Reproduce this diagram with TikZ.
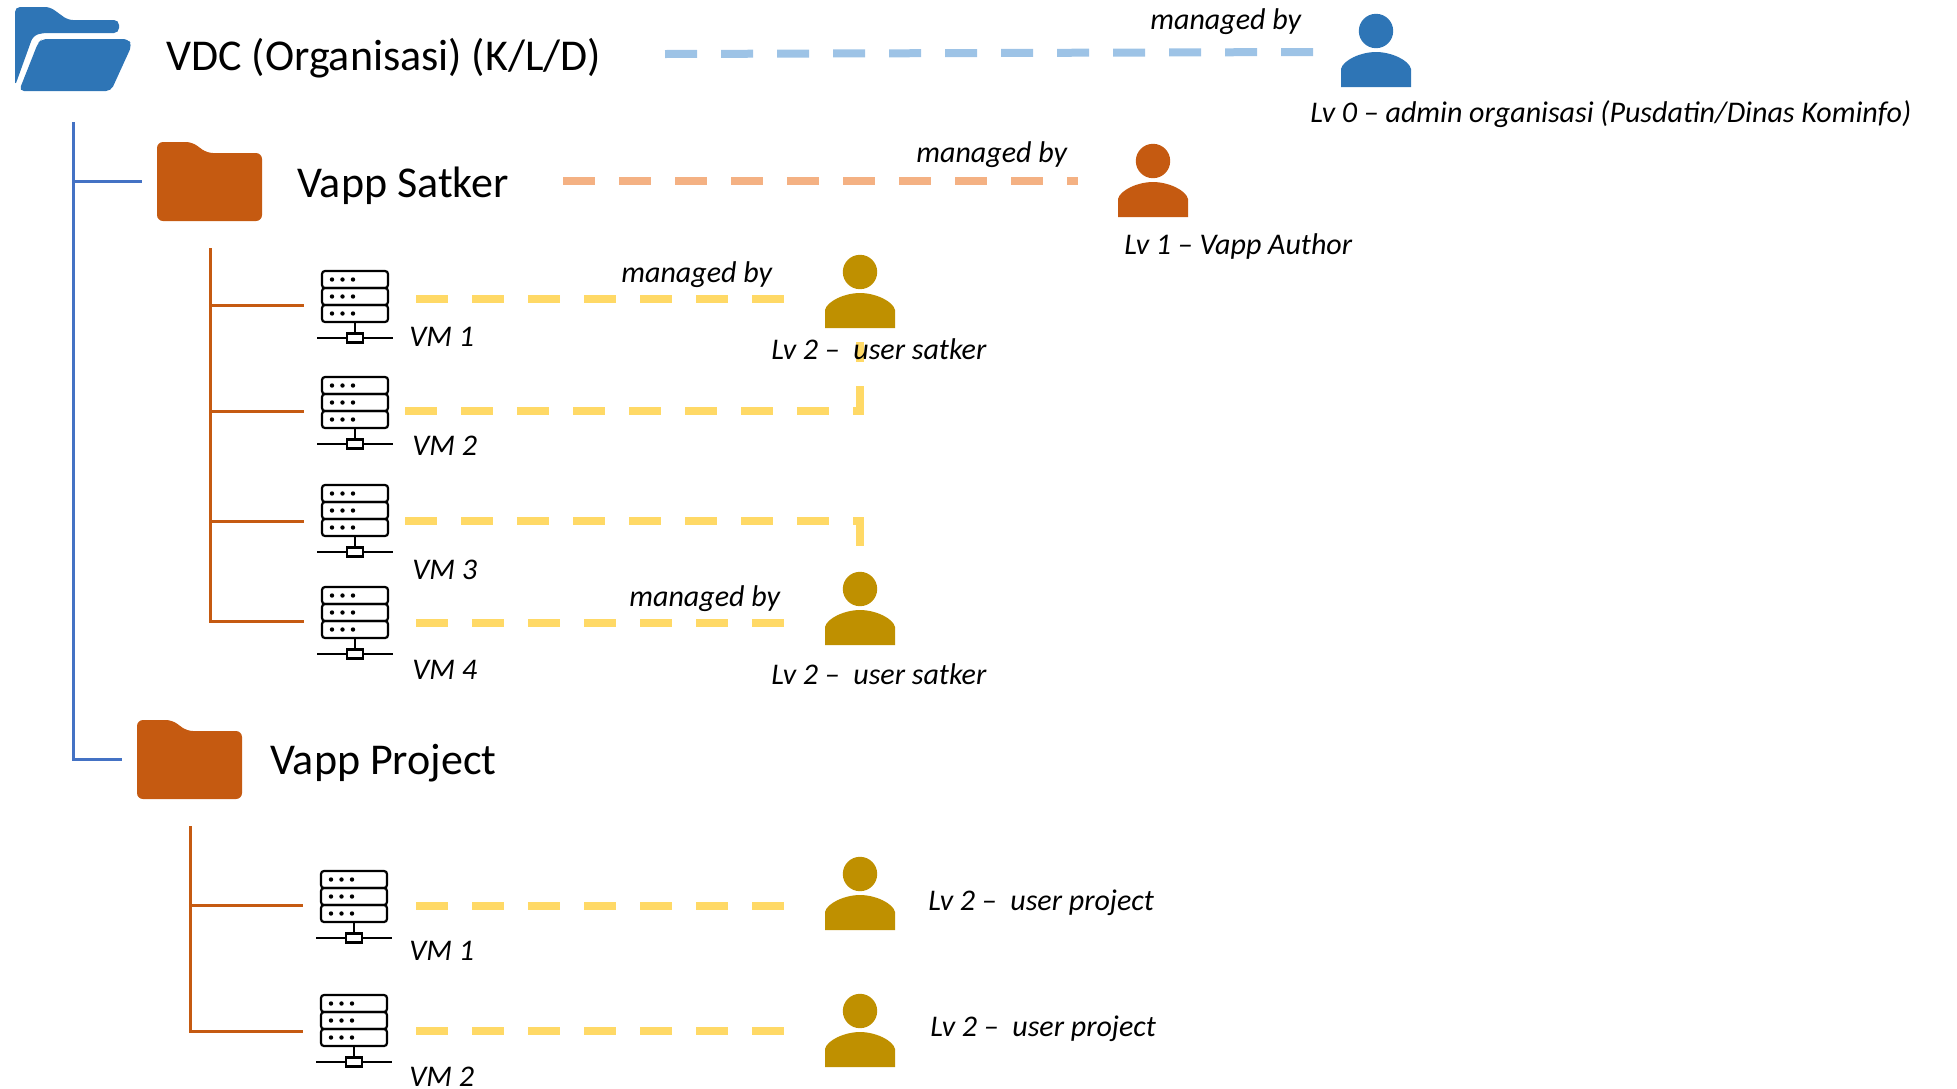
\documentclass[tikz,border=0pt]{standalone}
\usepackage{fontspec}
\setmainfont{Carlito}
\definecolor{cblue}{HTML}{2E75B6}
\definecolor{corange}{HTML}{C55A11}
\definecolor{cgold}{HTML}{BF9000}
\definecolor{dblue}{HTML}{9DC3E6}
\definecolor{dorange}{HTML}{F4B183}
\definecolor{dyellow}{HTML}{FFD966}
\definecolor{treeblue}{HTML}{4472C4}
\tikzset{
  person/.pic={
    \fill[pic actions] (-35,0) -- (-35,-18) .. controls (-33,-27) and (-15,-35) .. (0,-35)
      .. controls (15,-35) and (33,-27) .. (35,-18) -- (35,0) -- cycle;
    \fill[pic actions] (0,-56) circle [radius=8.6pt];
  },
  folder/.pic={
    \fill[pic actions, rounded corners=3pt] (157,221) -- (157,142) -- (192,142) -- (207,153) -- (262,153) -- (262,221) -- cycle;
  },
  server/.pic={
    \draw[black, line width=1.1pt, rounded corners=1.5pt] (-33,-67) rectangle (33,-50);
    \draw[black, line width=1.1pt, rounded corners=1.5pt] (-33,-50) rectangle (33,-33);
    \draw[black, line width=1.1pt, rounded corners=1.5pt] (-33,-33) rectangle (33,-16);
    \foreach \r in {-58.5,-41.5,-24.5}{
      \foreach \c in {-23,-12.5,-2}{ \fill[black] (\c,\r) circle [radius=1.1pt]; }
    }
    \draw[black, line width=1.1pt] (0,-16) -- (0,-4);
    \draw[black, line width=1.1pt] (-38,0) -- (-8,0) (8,0) -- (38,0);
    \draw[black, line width=1.1pt, fill=white] (-8,-4.5) rectangle (8,4.5);
  },
  dashline/.style={line width=4pt, dash pattern=on 16pt off 12pt},
  bigtext/.style={anchor=base west, inner sep=0pt, font=\fontsize{22}{26}\selectfont},
  smalltext/.style={anchor=base west, inner sep=0pt, font=\fontsize{15}{18}\selectfont\itshape},
  blueline/.style={treeblue, line width=1.5pt},
  orangeline/.style={corange, line width=1.5pt},
}
\begin{document}
\begin{tikzpicture}[x=0.5pt,y=-0.5pt]
\useasboundingbox (0,0) rectangle (1957,1088);

% root folder
\fill[cblue, rounded corners=2.5pt] (15,86) -- (15,7) -- (50,7) -- (68,20) -- (119,20) -- (119,33) -- (42,33) -- (33,36) -- cycle;
\fill[cblue, rounded corners=2.5pt] (19,91) -- (111,91) -- (132,45) -- (128,39) -- (42,39) -- (38,43) -- cycle;
\pic[corange] at (0,0) {folder};
\pic[corange] at (-20,578) {folder};

% named end points
\coordinate (d0a) at (665,54);   \coordinate (d0b) at (1313,52);
\coordinate (d1a) at (563,181);  \coordinate (d1b) at (1078,181);
\coordinate (v1a) at (416,299);  \coordinate (v1b) at (784,299);
\coordinate (v2a) at (405,411);  \coordinate (v2c) at (860,411); \coordinate (v2b) at (860,342);
\coordinate (v3a) at (405,521);  \coordinate (v3c) at (860,521); \coordinate (v3b) at (860,546);
\coordinate (v4a) at (416,623);  \coordinate (v4b) at (784,623);
\coordinate (p1a) at (416,906);  \coordinate (p1b) at (784,906);
\coordinate (p2a) at (416,1031); \coordinate (p2b) at (784,1031);
\coordinate (t0a) at (73,122);   \coordinate (t0b) at (73,759);  \coordinate (t0c) at (122,759);
\coordinate (t0d) at (73,181);   \coordinate (t0e) at (142,181);
\coordinate (t1a) at (210,248);  \coordinate (t1b) at (210,621); \coordinate (t1c) at (304,621);
\coordinate (t1d) at (210,305);  \coordinate (t1e) at (304,305);
\coordinate (t1f) at (210,411);  \coordinate (t1g) at (304,411);
\coordinate (t1h) at (210,521);  \coordinate (t1i) at (304,521);
\coordinate (t2a) at (190,826);  \coordinate (t2b) at (190,1031); \coordinate (t2c) at (303,1031);
\coordinate (t2d) at (190,905);  \coordinate (t2e) at (303,905);

% trees
\draw[blueline] (t0a) -- (t0b) -- (t0c);
\draw[blueline] (t0d) -- (t0e);
\draw[orangeline] (t1a) -- (t1b) -- (t1c);
\draw[orangeline] (t1d) -- (t1e);
\draw[orangeline] (t1f) -- (t1g);
\draw[orangeline] (t1h) -- (t1i);
\draw[orangeline] (t2a) -- (t2b) -- (t2c);
\draw[orangeline] (t2d) -- (t2e);

% dashed connectors
\draw[dashline, dblue] (d0a) -- (d0b);
\draw[dashline, dorange] (d1a) -- (d1b);
\draw[dashline, dyellow] (v1a) -- (v1b);
\draw[dashline, dyellow] (v2a) -- (v2c) -- (v2b);
\draw[dashline, dyellow] (v3a) -- (v3c) -- (v3b);
\draw[dashline, dyellow] (v4a) -- (v4b);
\draw[dashline, dyellow] (p1a) -- (p1b);
\draw[dashline, dyellow] (p2a) -- (p2b);

% servers
\pic at (355,338) {server};
\pic at (355,444) {server};
\pic at (355,552) {server};
\pic at (355,654) {server};
\pic at (354,938) {server};
\pic at (354,1062) {server};

% people
\pic[cblue] at (1376,87) {person};
\pic[corange] at (1153,217) {person};
\pic[cgold] at (860,328) {person};
\pic[cgold] at (860,645) {person};
\pic[cgold] at (860,930) {person};
\pic[cgold] at (860,1067) {person};

% text
\node[bigtext] (tvdc) at (166,70) {VDC (Organisasi) (K/L/D)};
\node[bigtext] (tsat) at (297,197) {Vapp Satker};
\node[bigtext] (tprj) at (270,774) {Vapp Project};
\node[smalltext] (m0) at (1150,29) {managed by};
\node[smalltext] (m1) at (916,162) {managed by};
\node[smalltext] (m2) at (621,282) {managed by};
\node[smalltext] (m3) at (629,606) {managed by};
\node[smalltext] (l0) at (1310,122) {Lv 0 – admin organisasi (Pusdatin/Dinas Kominfo)};
\node[smalltext] (l1) at (1124,254) {Lv 1 – Vapp Author};
\node[smalltext] (l2) at (771,359) {Lv 2 –\ \ user satker};
\node[smalltext] (l3) at (771,684) {Lv 2 –\ \ user satker};
\node[smalltext] (l4) at (928,910) {Lv 2 –\ \ user project};
\node[smalltext] (l5) at (930,1036) {Lv 2 –\ \ user project};
\node[smalltext] (s1) at (409,346) {VM 1};
\node[smalltext] (s2) at (412,455) {VM 2};
\node[smalltext] (s3) at (412,579) {VM 3};
\node[smalltext] (s4) at (412,679) {VM 4};
\node[smalltext] (s5) at (409,960) {VM 1};
\node[smalltext] (s6) at (409,1086) {VM 2};
\end{tikzpicture}
\end{document}
